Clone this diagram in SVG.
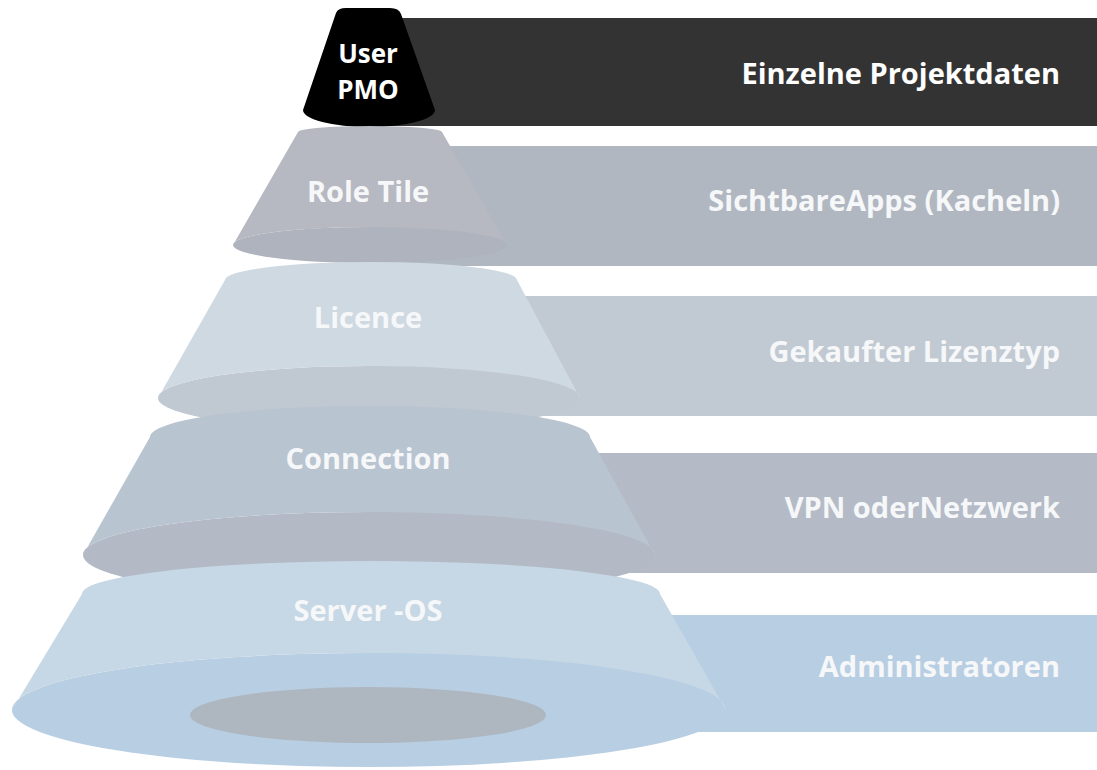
<svg xmlns="http://www.w3.org/2000/svg" width="1097" height="770" viewBox="0 0 1097 770">
<style>
  text { font-family: "Open Sans", "Noto Sans", "DejaVu Sans", sans-serif; font-weight: bold; font-size: 29px; fill: #f6f7f9; }
  .cl { text-anchor: middle; }
  .bl { text-anchor: end; }
  .w { fill: #ffffff; }
  .s { font-size: 26px; }
</style>
<rect width="1097" height="770" fill="#ffffff"/>
<g id="connectors"/>
<g id="layer-user">
  <rect x="370" y="18" width="727" height="108" fill="#333333"/>
  <path d="M336,13 Q338,8 346,8 L390,8 Q399,8 401,14 L435,110 A66,17 0 0 1 303,110 Z" fill="#000000"/>
  <text class="cl w s" x="368" y="63">User</text>
  <text class="cl w s" x="368" y="99">PMO</text>
  <text class="bl w" x="1060" y="84">Einzelne Projektdaten</text>
</g>
<g id="layer-role">
  <rect x="370" y="146" width="727" height="120" fill="#b1b7c1"/>
  <ellipse cx="370" cy="245" rx="137" ry="18" fill="#aeb3bd"/>
  <path d="M298,132 A72,6 0 0 1 442,132 L507,245 A137,18 0 0 0 233,245 Z" fill="#b6b9c1"/>
  <text class="cl" x="368" y="202">Role Tile</text>
  <text class="bl" x="1060" y="211">SichtbareApps (Kacheln)</text>
</g>
<g id="layer-licence">
  <rect x="370" y="296" width="727" height="120" fill="#c1c9d2"/>
  <ellipse cx="369" cy="398" rx="211" ry="32" fill="#c0c8d2"/>
  <path d="M225,280 A146,18 0 0 1 517,280 L580,398 A211,32 0 0 0 158,398 Z" fill="#cfd9e2"/>
  <text class="cl" x="368" y="328">Licence</text>
  <text class="bl" x="1060" y="362">Gekaufter Lizenztyp</text>
</g>
<g id="layer-connection">
  <rect x="370" y="453" width="727" height="120" fill="#b4bbc6"/>
  <ellipse cx="369" cy="555" rx="286" ry="43" fill="#b3bac6"/>
  <path d="M150,437 A220,31 0 0 1 590,437 L655,555 A286,43 0 0 0 83,555 Z" fill="#b8c4d0"/>
  <text class="cl" x="368" y="469">Connection</text>
  <text class="bl" x="1060" y="518">VPN oderNetzwerk</text>
</g>
<g id="layer-server">
  <rect x="370" y="615" width="727" height="117" fill="#b8cee2"/>
  <ellipse cx="369" cy="710" rx="357" ry="57" fill="#b8cee2"/>
  <path d="M82,594 A289,33 0 0 1 660,594 L726,710 A357,57 0 0 0 12,710 Z" fill="#c6d8e5"/>
  <ellipse cx="368" cy="715" rx="178" ry="28" fill="#aeb6c0"/>
  <text class="cl" x="368" y="621">Server -OS</text>
  <text class="bl" x="1060" y="677">Administratoren</text>
</g>
</svg>
